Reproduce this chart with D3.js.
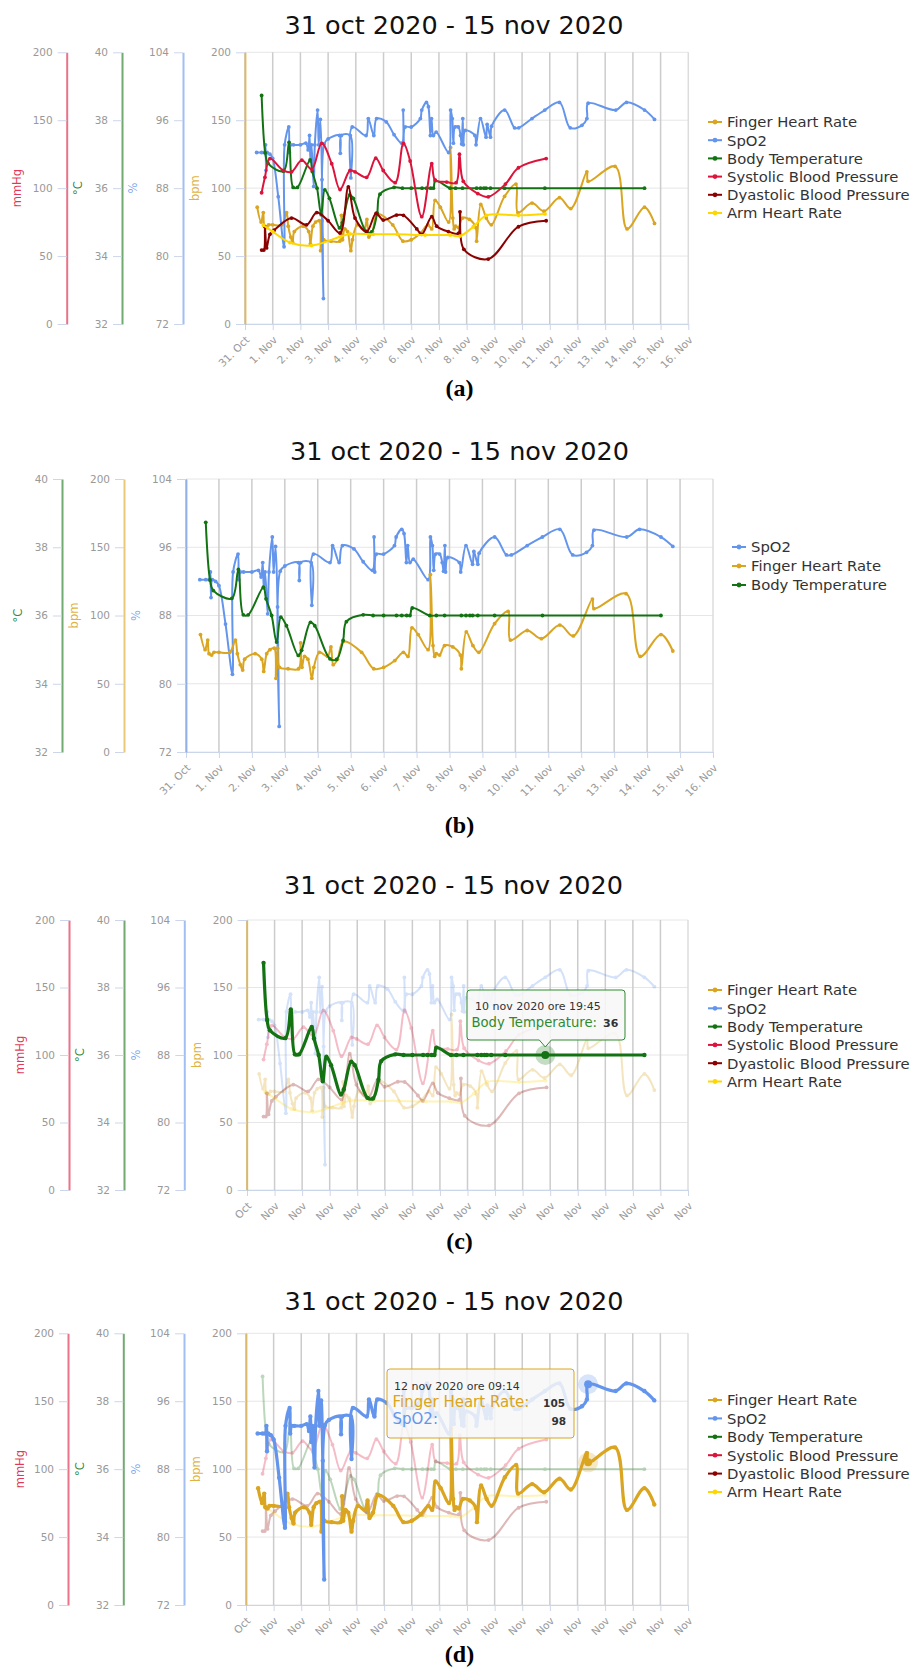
<!DOCTYPE html>
<html><head><meta charset="utf-8">
<script src="https://cdn.jsdelivr.net/npm/d3@7"></script>
<style>
body{margin:0;background:#fff}
svg{display:block}
text{font-family:"DejaVu Sans",Verdana,sans-serif}
</style>
</head><body>
<svg id="chart" width="916" height="1670"></svg>
<script>
// ---------- DATA (time = days since 31 Oct 2020 00:00) ----------
const fhrT = [0.44,0.58,0.66,0.70,0.78,0.85,1.0,1.33,1.50,1.56,1.65,1.72,1.78,2.10,2.30,2.36,2.45,2.55,2.68,2.73,2.78,2.84,3.10,3.42,3.48,3.52,3.60,3.70,3.82,3.88,4.05,4.30,4.40,4.47,4.60,4.78,5.33,5.70,6.00,6.34,6.60,6.74,6.86,7.05,7.35,7.42,7.50,7.55,7.60,7.70,7.85,8.10,8.33,8.36,8.51,8.71,8.89,9.37,9.78,9.85,10.36,10.79,11.35,11.76,12.34,12.385,13.36,13.79,14.42,14.78];
const fhrV = [86,75,82,72,71,73,73,73,82,72,64,60,68,72,68,59,72,75,76,54,76,62,61,61,80,62,70,68,54,62,73,70,77,64,68,81,73,61,62,67,73,70,91,86,75,130,78,70,72,71,78,77,71,61,88,78,73,94,103,82,89,83,93,85,112,105,116,70,86,74];

const spo2T = [0.42,0.6,0.7,0.74,0.76,0.8,0.9,1.0,1.2,1.41,1.43,1.58,1.6,1.65,1.75,2.0,2.2,2.28,2.33,2.36,2.4,2.48,2.52,2.62,2.66,2.72,2.78,2.83,2.86,3.0,3.41,3.44,3.48,3.8,3.82,3.87,4.37,4.45,4.65,4.75,5.1,5.38,5.66,5.71,5.73,5.78,6.0,6.33,6.38,6.55,6.62,6.69,6.73,6.8,6.9,7.35,7.42,7.48,7.52,7.58,7.7,7.78,7.82,7.86,7.88,7.95,8.3,8.34,8.5,8.7,8.74,8.86,8.9,9.37,9.73,9.88,10.36,10.82,11.35,11.74,12.16,12.34,12.385,13.38,13.77,14.42,14.78];
const spo2V = [92.2,92.2,92.2,93.1,90.1,92.2,92.0,91.5,87.0,81.1,93.1,95.2,92.2,93.1,93.1,93.1,93.3,92.5,94.2,91.2,93.1,88.2,93.1,97.2,93.1,96.1,89.0,75.0,93.2,93.8,94.2,92.1,94.2,94.2,89.2,95.2,94.2,96.2,94.2,96.2,95.8,94.3,93.3,97.2,93.1,95.2,95.2,96.2,97.2,98.1,97.6,94.2,96.2,94.2,94.6,92.2,97.2,96.2,93.3,95.2,95.2,94.2,93.2,96.2,93.1,94.8,94.2,93.1,96.2,94.0,95.5,94.0,95.3,97.2,95.1,95.1,96.2,97.2,98.1,95.1,95.4,96.2,98,97.2,98.1,97.2,96.1];

const btT = [0.6,0.73,0.83,1.39,1.59,1.74,1.89,2.35,2.43,2.6,2.75,2.88,3.05,3.41,3.51,3.78,3.91,4.37,4.57,4.77,4.87,5.38,5.68,6.0,6.39,6.55,6.7,6.8,6.87,7.4,7.6,7.85,8.36,8.5,8.62,8.7,8.86,9.37,10.823,14.42];
const btV = [38.73,37.04,36.73,36.5,37.35,36.02,36.02,36.83,36.49,36.0,35.22,35.95,35.7,34.83,34.98,35.8,35.7,34.73,34.71,35.27,35.82,36.02,36.0,36.0,36.0,36.0,36.0,36.0,36.22,36.0,36.0,36.0,36.0,36.0,36.0,36.0,36.0,36.0,36,36.0];

const sbpT = [0.6,0.72,0.9,1.38,1.68,2.05,2.41,2.77,3.13,3.43,3.79,3.97,4.39,4.72,4.99,5.42,5.72,5.96,6.38,6.74,6.86,7.28,7.62,7.74,7.88,8.4,8.78,9.4,9.87,10.87];
const sbpV = [96.6,108,121.8,113,112,120.6,114,133,118,99,113,112,108,122,113,104,133,120,79,118,106,104.5,104,125,105,96,93.6,103,115,121.8];

const dbpT = [0.6,0.68,0.72,0.78,0.9,1.05,1.68,2.22,2.59,3.0,3.43,3.73,3.97,4.39,4.73,4.99,5.47,5.72,6.2,6.38,6.74,6.92,7.34,7.7,7.76,7.9,8.78,9.87,10.87];
const dbpV = [54.4,54.4,71.6,56,66,69,78,73,82,76,67,101,78,68,81.4,76.5,80.2,80,70,66,79,72,68,66.7,82.6,55,47.8,71.6,76];

const ahrT = [0.66,1.0,1.62,2.4,3.43,3.79,4.63,5.5,6.5,7.4,7.76,8.24,8.72,9.87,10.83];
const ahrV = [72.8,68,60,57.7,64.2,66.3,66,66,65.5,65.5,64.7,71.6,80,80,81];

const seriesNames = {fhr:"Finger Heart Rate", spo2:"SpO2", bt:"Body Temperature", sbp:"Systolic Blood Pressure", dbp:"Dyastolic Blood Pressure", ahr:"Arm Heart Rate"};

const dayLabelsFull = ["31. Oct","1. Nov","2. Nov","3. Nov","4. Nov","5. Nov","6. Nov","7. Nov","8. Nov","9. Nov","10. Nov","11. Nov","12. Nov","13. Nov","14. Nov","15. Nov","16. Nov"];
const dayLabelsShort = ["Oct","Nov","Nov","Nov","Nov","Nov","Nov","Nov","Nov","Nov","Nov","Nov","Nov","Nov","Nov","Nov","Nov"];

const ticksMmHg = [0,50,100,150,200];
const ticksC = [32,34,36,38,40];
const ticksPct = [72,80,88,96,104];
const ticksBpm = [0,50,100,150,200];

const titleText = "31 oct 2020 - 15 nov 2020";

// ---------- STYLE / LAYOUT ----------
const colors = {fhr:"#DAA520", spo2:"#6495ED", bt:"#137313", sbp:"#DC143C", dbp:"#8B0000", ahr:"#FFD700"};
const units = {
  mmHg:{domain:[0,200], ticks:ticksMmHg, color:"#DC143C", title:"mmHg"},
  C:{domain:[32,40], ticks:ticksC, color:"#137313", title:"\u00B0C"},
  pct:{domain:[72,104], ticks:ticksPct, color:"#6495ED", title:"%"},
  bpm:{domain:[0,200], ticks:ticksBpm, color:"#DAA520", title:"bpm"}
};
const series = {
  fhr:{t:fhrT, v:fhrV, unit:"bpm"},
  spo2:{t:spo2T, v:spo2V, unit:"pct"},
  bt:{t:btT, v:btV, unit:"C"},
  sbp:{t:sbpT, v:sbpV, unit:"mmHg"},
  dbp:{t:dbpT, v:dbpV, unit:"mmHg"},
  ahr:{t:ahrT, v:ahrV, unit:"bpm"}
};
const order6 = ["fhr","spo2","bt","sbp","dbp","ahr"];

const panels = [
 {top:52.3,bottom:324,left:245,right:688.3,titleX:454,titleY:33.5,
  axes:[{u:"mmHg",line:66.7,title:17.3},{u:"C",line:122,title:78},{u:"pct",line:183,title:133},{u:"bpm",line:245,title:195}],
  legendX:708,legendY:122,legendDy:18.2,legend:order6,draw:order6,xlabels:dayLabelsFull,caption:"(a)",capY:396,hl:null},
 {top:479,bottom:752,left:186,right:713,titleX:459.5,titleY:459.5,
  axes:[{u:"C",line:62,title:18.3},{u:"bpm",line:124,title:74},{u:"pct",line:186,title:136}],
  legendX:732,legendY:547,legendDy:19,legend:["spo2","fhr","bt"],draw:["spo2","fhr","bt"],xlabels:dayLabelsFull,caption:"(b)",capY:833,hl:null},
 {top:920,bottom:1190,left:247,right:688,titleX:453.5,titleY:893.5,
  axes:[{u:"mmHg",line:69,title:20},{u:"C",line:124,title:80},{u:"pct",line:184.3,title:136},{u:"bpm",line:246.7,title:197}],
  legendX:708,legendY:990,legendDy:18.3,legend:order6,draw:["fhr","spo2","sbp","dbp","ahr","bt"],xlabels:dayLabelsShort,caption:"(c)",capY:1249,
  hl:["bt"], hover:[{k:"bt",t:10.823,v:36}], tip:"c"},
 {top:1333.3,bottom:1605,left:246,right:688,titleX:454,titleY:1309.5,
  axes:[{u:"mmHg",line:68,title:20},{u:"C",line:123.3,title:80},{u:"pct",line:184,title:136},{u:"bpm",line:246,title:196}],
  legendX:708,legendY:1400,legendDy:18.4,legend:order6,draw:["bt","sbp","dbp","ahr","fhr","spo2"],xlabels:dayLabelsShort,caption:"(d)",capY:1662,
  hl:["fhr","spo2"], hover:[{k:"spo2",t:12.385,v:98},{k:"fhr",t:12.385,v:105}], tip:"d"}
];

const svg = d3.select("#chart");

function drawPanel(p){
  const g = svg.append("g");
  const x = d3.scaleLinear().domain([0,16]).range([p.left,p.right]);
  const ys = {};
  for (const k in units) ys[k] = d3.scaleLinear().domain(units[k].domain).range([p.bottom,p.top]);

  // title
  g.append("text").attr("x",p.titleX).attr("y",p.titleY).attr("text-anchor","middle")
   .style("font-size","25.5px").attr("fill","#111").text(titleText);

  // horizontal grid
  g.append("g").selectAll("line").data(ticksBpm).join("line")
   .attr("x1",p.left).attr("x2",p.right).attr("y1",d=>ys.bpm(d)).attr("y2",d=>ys.bpm(d))
   .attr("stroke","#e6e6e6").attr("stroke-width",1);
  // vertical grid
  g.append("g").selectAll("line").data(d3.range(0,17)).join("line")
   .attr("x1",d=>x(d)).attr("x2",d=>x(d)).attr("y1",p.top).attr("y2",p.bottom)
   .attr("stroke",d=>d===16?"#dcdcdc":"#cccccc").attr("stroke-width",1.5);

  // x axis
  const xg = g.append("g").attr("transform",`translate(0,${p.bottom})`)
   .call(d3.axisBottom(x).tickValues(d3.range(0,17)).tickSize(6).tickSizeOuter(0).tickFormat(i=>p.xlabels[i]));
  xg.attr("font-family",null).attr("font-size",null);
  xg.select(".domain").attr("stroke","#ccd6eb");
  xg.selectAll(".tick line").attr("stroke","#ccd6eb");
  xg.selectAll(".tick text").attr("fill","#999").style("font-size","10.5px")
   .attr("text-anchor","end").attr("x",0).attr("y",0).attr("dy","0.35em")
   .attr("transform","translate(2,14) rotate(-45)");

  // y axes
  p.axes.forEach(a=>{
    const u = units[a.u];
    const ag = g.append("g").attr("transform",`translate(${a.line},0)`)
     .call(d3.axisLeft(ys[a.u]).tickValues(u.ticks).tickSize(9).tickPadding(5).tickSizeOuter(0));
    ag.attr("font-family",null).attr("font-size",null);
    ag.select(".domain").attr("stroke",u.color).attr("stroke-opacity",0.6).attr("stroke-width",2);
    ag.selectAll(".tick line").attr("stroke","#ccd6eb");
    ag.selectAll(".tick text").attr("fill","#999").style("font-size","10.5px");
    g.append("text").attr("transform",`translate(${a.title},${(p.top+p.bottom)/2}) rotate(-90)`)
     .attr("text-anchor","middle").attr("dy","0.35em").style("font-size","11.5px")
     .attr("fill",u.color).attr("fill-opacity",0.85).text(u.title);
  });

  // series
  p.draw.forEach(k=>{
    const s = series[k];
    const y = ys[s.unit];
    const pts = s.t.map((t,i)=>[t,s.v[i]]);
    const faded = p.hl && !p.hl.includes(k);
    const strong = p.hl && p.hl.includes(k);
    const line = d3.line().x(d=>x(d[0])).y(d=>y(d[1])).curve(d3.curveCatmullRom.alpha(0.5));
    const sg = g.append("g").attr("opacity",faded?0.28:1);
    sg.append("path").attr("d",line(pts)).attr("fill","none").attr("stroke",colors[k])
      .attr("stroke-width",strong?3.2:2).attr("stroke-linejoin","round").attr("stroke-linecap","round");
    sg.selectAll("circle").data(pts).join("circle").attr("cx",d=>x(d[0])).attr("cy",d=>y(d[1]))
      .attr("r",strong?2.2:1.9).attr("fill",colors[k]);
  });

  // hover halos
  if (p.hover) p.hover.forEach(h=>{
    const y = ys[series[h.k].unit];
    g.append("circle").attr("cx",x(h.t)).attr("cy",y(h.v)).attr("r",10).attr("fill",colors[h.k]).attr("fill-opacity",0.25);
    g.append("circle").attr("cx",x(h.t)).attr("cy",y(h.v)).attr("r",4).attr("fill",colors[h.k]);
  });

  // legend
  p.legend.forEach((k,i)=>{
    const yy = p.legendY + i*p.legendDy;
    g.append("line").attr("x1",p.legendX).attr("x2",p.legendX+14).attr("y1",yy).attr("y2",yy)
     .attr("stroke",colors[k]).attr("stroke-width",2);
    g.append("circle").attr("cx",p.legendX+7).attr("cy",yy).attr("r",2.4).attr("fill",colors[k]);
    g.append("text").attr("x",p.legendX+19).attr("y",yy).attr("dy","0.36em").style("font-size","14.8px")
     .attr("fill","#333").text(seriesNames[k]);
  });

  // tooltips
  if (p.tip==="c"){
    const x0=467,y0=990,x1=625,y1=1040,px=x(10.823);
    const tg=g.append("g");
    tg.append("path").attr("d",`M${x0+3},${y0}H${x1-3}Q${x1},${y0} ${x1},${y0+3}V${y1-3}Q${x1},${y1} ${x1-3},${y1}H${px+6}L${px},${y1+7}L${px-6},${y1}H${x0+3}Q${x0},${y1} ${x0},${y1-3}V${y0+3}Q${x0},${y0} ${x0+3},${y0}Z`)
      .attr("fill","rgba(247,247,247,0.88)").attr("stroke","#2e8b2e").attr("stroke-width",1);
    tg.append("text").attr("x",475).attr("y",1010).style("font-size","11px").attr("fill","#333").text("10 nov 2020 ore 19:45");
    tg.append("text").attr("x",471.5).attr("y",1027).style("font-size","13.2px").attr("fill","#2e8b2e").text("Body Temperature:");
    tg.append("text").attr("x",603).attr("y",1027).style("font-size","11px").style("font-weight","bold").attr("fill","#333").text("36");
  }
  if (p.tip==="d"){
    const tg=g.append("g");
    tg.append("rect").attr("x",387).attr("y",1369).attr("width",187).attr("height",69).attr("rx",3)
      .attr("fill","rgba(247,247,247,0.85)").attr("stroke","#DAA520").attr("stroke-width",1);
    tg.append("text").attr("x",394).attr("y",1390).style("font-size","11px").attr("fill","#333").text("12 nov 2020 ore 09:14");
    tg.append("text").attr("x",392.5).attr("y",1407).style("font-size","15px").attr("fill","#DAA520").text("Finger Heart Rate:");
    tg.append("text").attr("x",565).attr("y",1407).attr("text-anchor","end").style("font-size","10.5px").style("font-weight","bold").attr("fill","#333").text("105");
    tg.append("text").attr("x",392.5).attr("y",1424).style("font-size","15px").attr("fill","#6495ED").text("SpO2:");
    tg.append("text").attr("x",566).attr("y",1425).attr("text-anchor","end").style("font-size","10.5px").style("font-weight","bold").attr("fill","#333").text("98");
  }

  // caption
  g.append("text").attr("x",459.5).attr("y",p.capY).attr("text-anchor","middle")
   .style("font-family","'Liberation Serif','Times New Roman',serif").style("font-size","24px").style("font-weight","bold")
   .attr("fill","#000").text(p.caption);
}

panels.forEach(drawPanel);
</script>
</body></html>
